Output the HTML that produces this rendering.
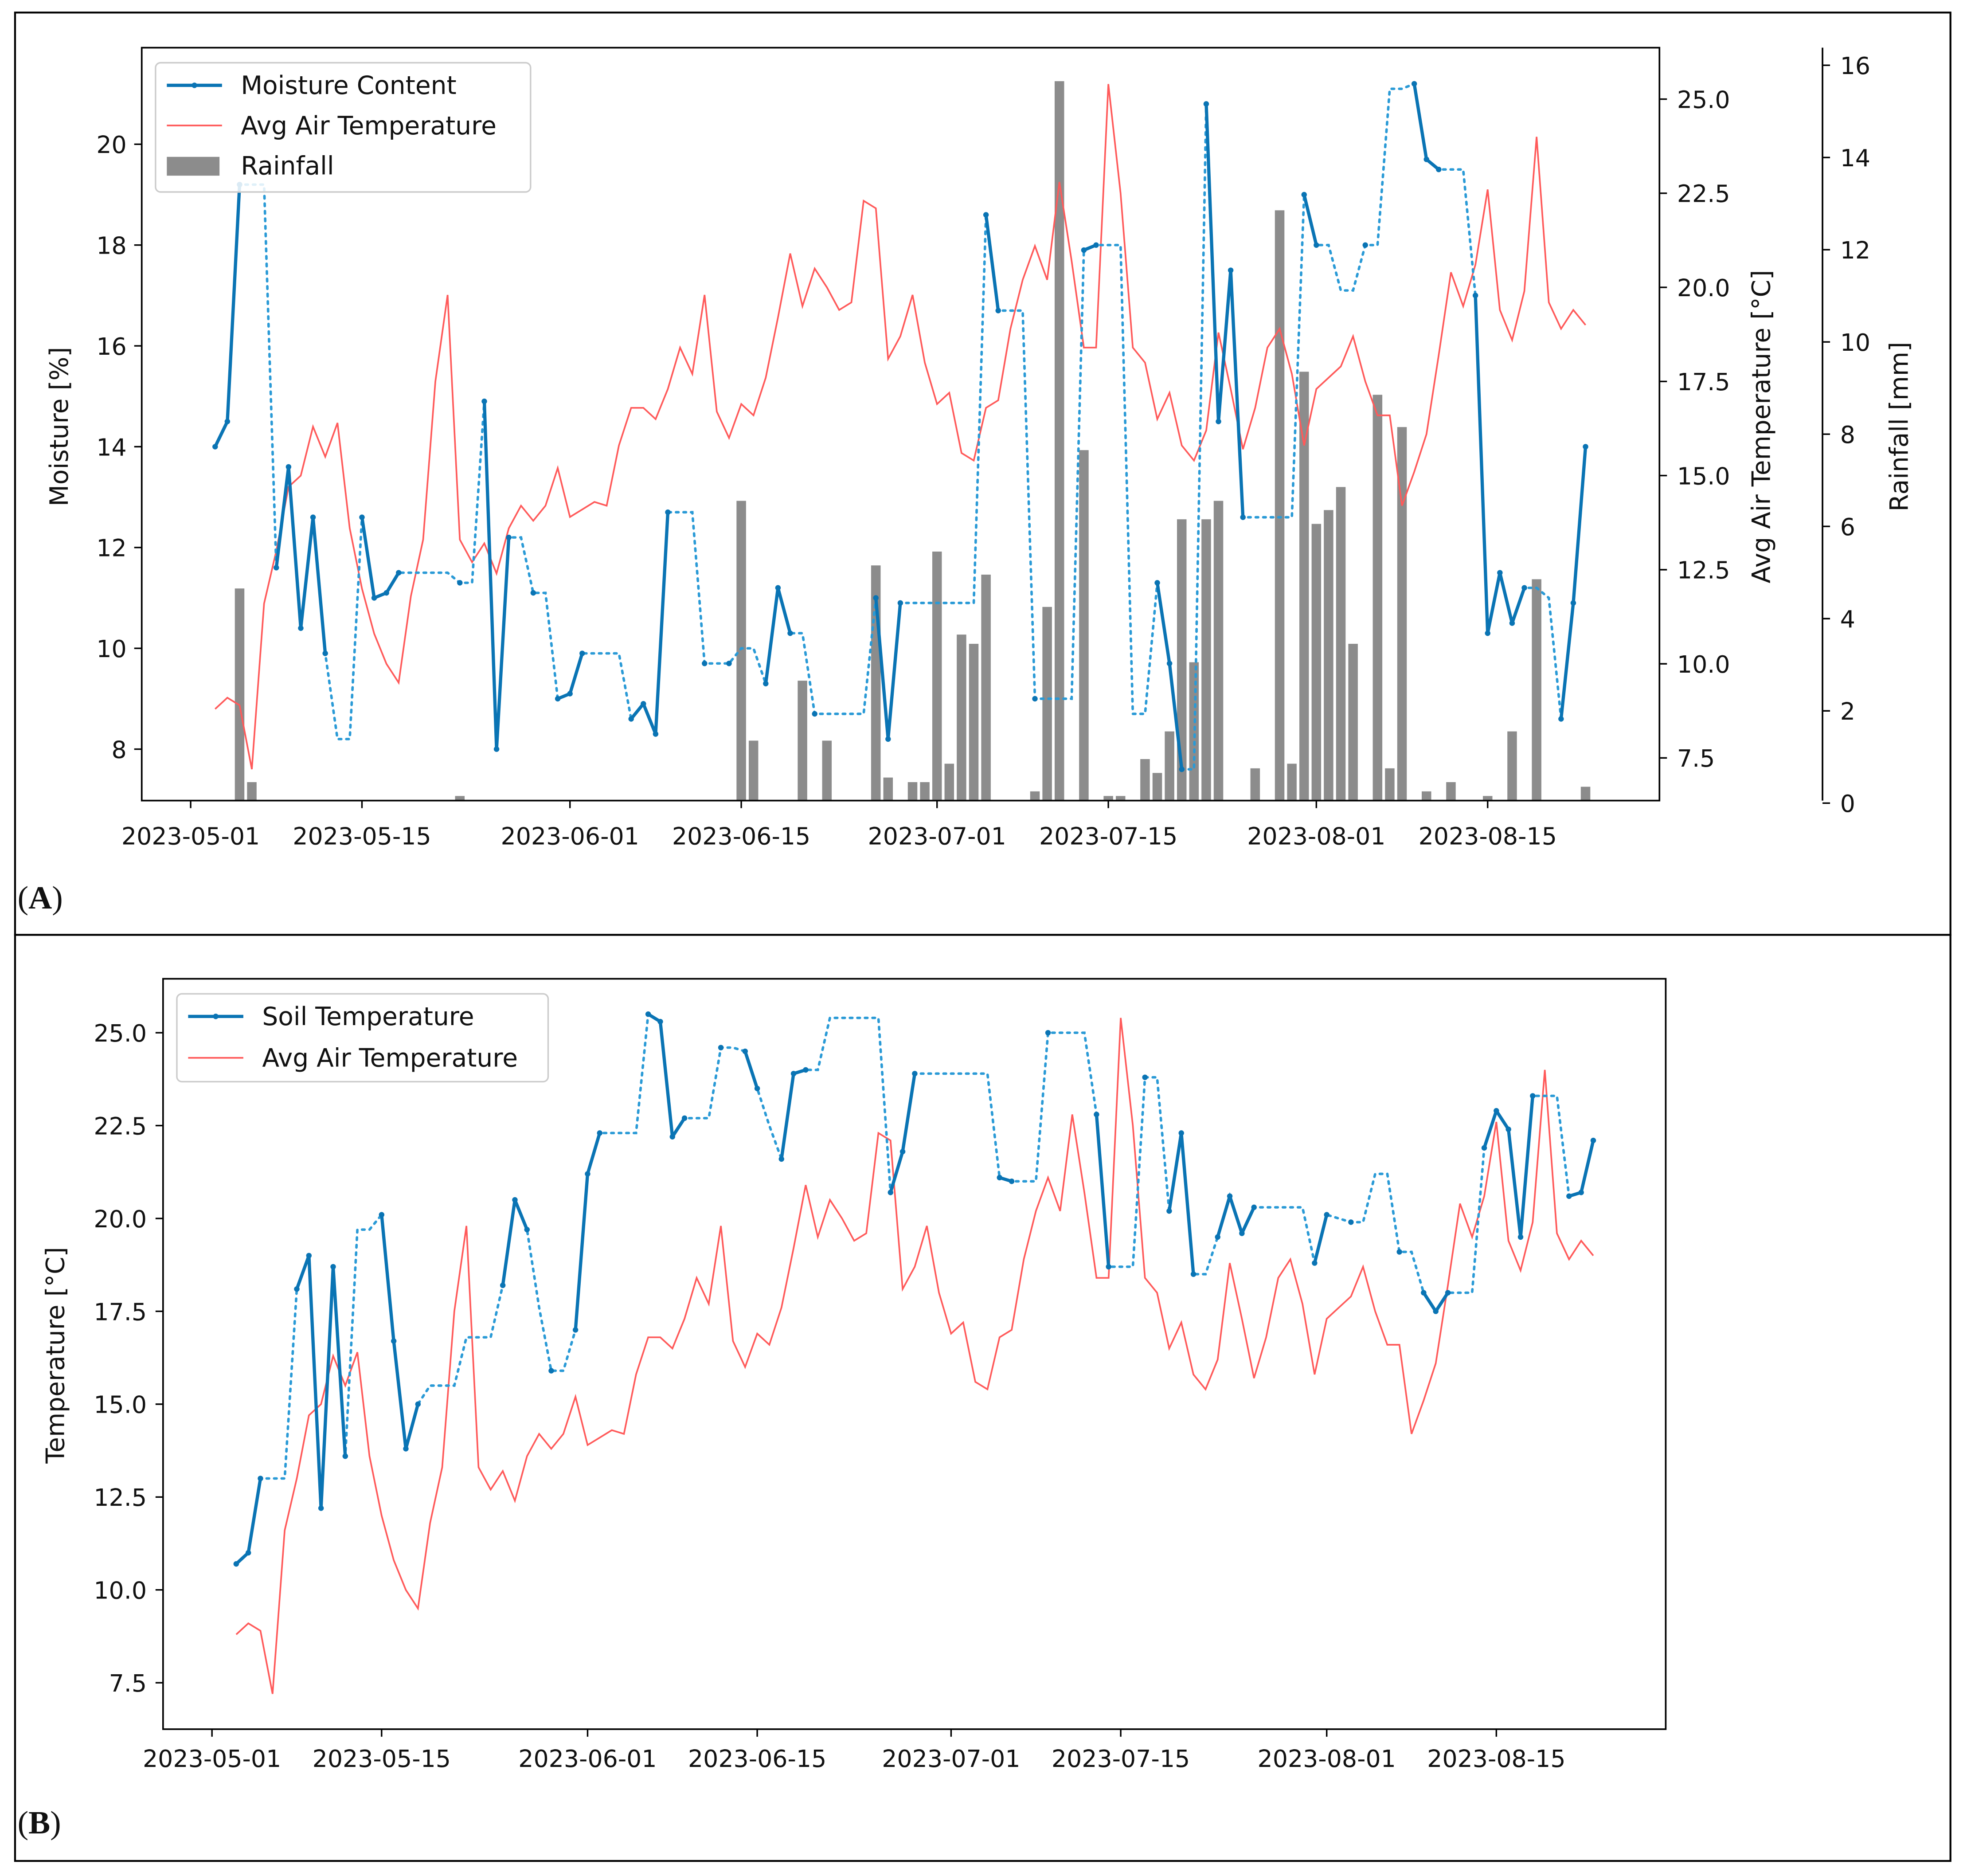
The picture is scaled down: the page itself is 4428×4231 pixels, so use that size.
<!DOCTYPE html>
<html><head><meta charset="utf-8">
<style>
html,body{margin:0;padding:0;background:#fff;}
svg{display:block;}
text{font-family:"DejaVu Sans","Liberation Sans",sans-serif;fill:#111;}
</style></head>
<body>
<svg id="fig" xmlns="http://www.w3.org/2000/svg" width="4428" height="4231" viewBox="0 0 1565 1495" preserveAspectRatio="none">
<rect x="0" y="0" width="1565" height="1495" fill="#fff"/>
<rect x="12" y="10" width="1543" height="735" fill="none" stroke="#000" stroke-width="1.5"/>
<rect x="12" y="745" width="1543" height="738" fill="none" stroke="#000" stroke-width="1.5"/>
<text x="14" y="724" font-size="26" style="font-family:'Liberation Serif',serif">(<tspan font-weight="bold">A</tspan>)</text>
<text x="14" y="1461" font-size="26" style="font-family:'Liberation Serif',serif">(<tspan font-weight="bold">B</tspan>)</text>
<g id="ga"></g>
<g id="gb"></g>
</svg>
<script>
// ---- data (day index d = days since 2023-05-01) ----
const airDays = [];
for (let d = 2; d <= 114; d++) airDays.push(d);
const airTemp = [8.8,9.1,8.9,7.2,11.6,13.0,14.7,15.0,16.3,15.5,16.4,13.6,12.0,10.8,10.0,9.5,11.8,13.3,17.5,19.8,13.3,12.7,13.2,12.4,13.6,14.2,13.8,14.2,15.2,13.9,14.1,14.3,14.2,15.8,16.8,16.8,16.5,17.3,18.4,17.7,19.8,16.7,16.0,16.9,16.6,17.6,19.2,20.9,19.5,20.5,20.0,19.4,19.6,22.3,22.1,18.1,18.7,19.8,18.0,16.9,17.2,15.6,15.4,16.8,17.0,18.9,20.2,21.1,20.2,22.8,20.7,18.4,18.4,25.4,22.5,18.4,18.0,16.5,17.2,15.8,15.4,16.2,18.8,17.3,15.7,16.8,18.4,18.9,17.7,15.8,17.3,17.6,17.9,18.7,17.5,16.6,16.6,14.2,15.1,16.1,18.2,20.4,19.5,20.6,22.6,19.4,18.6,19.9,24.0,19.6,18.9,19.4,19.0];
const moisture = [14.0,14.5,19.2,19.2,19.2,11.6,13.6,10.4,12.6,9.9,8.2,8.2,12.6,11.0,11.1,11.5,11.5,11.5,11.5,11.5,11.3,11.3,14.9,8.0,12.2,12.2,11.1,11.1,9.0,9.1,9.9,9.9,9.9,9.9,8.6,8.9,8.3,12.7,12.7,12.7,9.7,9.7,9.7,10.0,10.0,9.3,11.2,10.3,10.3,8.7,8.7,8.7,8.7,8.7,11.0,8.2,10.9,10.9,10.9,10.9,10.9,10.9,10.9,18.6,16.7,16.7,16.7,9.0,9.0,9.0,9.0,17.9,18.0,18.0,18.0,8.7,8.7,11.3,9.7,7.6,7.6,20.8,14.5,17.5,12.6,12.6,12.6,12.6,12.6,19.0,18.0,18.0,17.1,17.1,18.0,18.0,21.1,21.1,21.2,19.7,19.5,19.5,19.5,17.0,10.3,11.5,10.5,11.2,11.2,11.0,8.6,10.9,14.0];
const moistMeasured = [1,1,1,0,0,1,1,1,1,1,
0,0,1,1,1,1,0,0,0,0,
1,0,1,1,1,0,1,0,1,1,
1,0,0,0,1,1,1,1,0,0,
1,0,1,0,0,1,1,1,0,1,
0,0,0,0,1,1,1,0,0,0,
0,0,0,1,1,0,0,1,0,0,
0,1,1,0,0,0,0,1,1,1,
0,1,1,1,1,0,0,0,0,1,
1,0,0,0,1,0,0,0,1,1,
1,0,0,1,1,1,1,1,0,0,
1,1,1];
const soilTemp = [10.7,11.0,13.0,13.0,13.0,18.1,19.0,12.2,18.7,13.6,
19.7,19.7,20.1,16.7,13.8,15.0,15.5,15.5,15.5,16.8,
16.8,16.8,18.2,20.5,19.7,17.6,15.9,15.9,17.0,21.2,
22.3,22.3,22.3,22.3,25.5,25.3,22.2,22.7,22.7,22.7,
24.6,24.6,24.5,23.5,22.5,21.6,23.9,24.0,24.0,25.4,
25.4,25.4,25.4,25.4,20.7,21.8,23.9,23.9,23.9,23.9,
23.9,23.9,23.9,21.1,21.0,21.0,21.0,25.0,25.0,25.0,
25.0,22.8,18.7,18.7,18.7,23.8,23.8,20.2,22.3,18.5,
18.5,19.5,20.6,19.6,20.3,20.3,20.3,20.3,20.3,18.8,
20.1,20.0,19.9,19.9,21.2,21.2,19.1,19.1,18.0,17.5,
18.0,18.0,18.0,21.9,22.9,22.4,19.5,23.3,23.3,23.3,
20.6,20.7,22.1];
const soilMeasured = [1,1,1,0,0,1,1,1,1,1,
0,0,1,1,1,1,0,0,0,0,
0,0,1,1,1,0,1,0,1,1,
1,0,0,0,1,1,1,1,0,0,
1,0,1,1,0,1,1,1,0,0,
0,0,0,0,1,1,1,0,0,0,
0,0,0,1,1,0,0,1,0,0,
0,1,1,0,0,1,0,1,1,1,
0,1,1,1,1,0,0,0,0,1,
1,0,1,0,0,0,1,0,1,1,
1,0,0,1,1,1,1,1,0,0,
1,1,1];
const rainDays = [4,5,22,45,46,50,52,56,57,59,60,61,62,63,64,65,69,70,71,73,75,76,78,79,80,81,82,83,84,87,89,90,91,92,93,94,95,97,98,99,101,103,106,108,110,114];
const rainMm = [4.6,0.4,0.1,6.5,1.3,2.6,1.3,5.1,0.5,0.4,0.4,5.4,0.8,3.6,3.4,4.9,0.2,4.2,15.6,7.6,0.1,0.1,0.9,0.6,1.5,6.1,3.0,6.1,6.5,0.7,12.8,0.8,9.3,6.0,6.3,6.8,3.4,8.8,0.7,8.1,0.2,0.4,0.1,1.5,4.8,0.3];
const dateTickDays = [0,14,31,45,61,75,92,106];
const dateTickLabels = ["2023-05-01","2023-05-15","2023-06-01","2023-06-15","2023-07-01","2023-07-15","2023-08-01","2023-08-15"];
const moistTicks = [8,10,12,14,16,18,20];
const tempTicks = [7.5,10.0,12.5,15.0,17.5,20.0,22.5,25.0];
const rainTicks = [0,2,4,6,8,10,12,14,16];

const NS = "http://www.w3.org/2000/svg";
function mk(parent, tag, attrs) {
  const e = document.createElementNS(NS, tag);
  for (const k in attrs) e.setAttribute(k, attrs[k]);
  parent.appendChild(e);
  return e;
}
const BLUE = "#0a74b4", LBLUE = "#2a9ad6", RED = "#ff5a5a";

// ---------- Panel A ----------
const ga = document.getElementById("ga");
const xA = d => 152 + d * 9.755;
const yM = m => 597 - (m - 8) * 40.17;
const yT = t => 604 - (t - 7.5) * 30;
const yR = r => 638 - r * 36.75;

rainDays.forEach((d, i) => {
  const b = mk(ga, "rect", {x: xA(d) - 3.8, y: yR(rainMm[i]), width: 7.6, height: 638 - yR(rainMm[i]), fill: "#8c8c8c"});
  
  
});
{
  const p = mk(ga, "polyline", {points: airDays.map((d, i) => xA(d) + "," + yT(airTemp[i])).join(" "), fill: "none", stroke: RED, "stroke-width": 1.3});
  
  
}
function drawSeries(g, vals, meas, xf, yf, name) {
  const dotted = mk(g, "polyline", {points: airDays.map((d, i) => xf(d) + "," + yf(vals[i])).join(" "), fill: "none", stroke: LBLUE, "stroke-width": 2, "stroke-dasharray": "2,4", "stroke-linecap": "round"});
  
  
  let seg = [];
  const flush = () => {
    if (seg.length > 1) {
      const s = mk(g, "polyline", {points: seg.join(" "), fill: "none", stroke: BLUE, "stroke-width": 2.6, "stroke-linejoin": "round"});
      
      
    }
    seg = [];
  };
  airDays.forEach((d, i) => {
    if (meas[i]) {
      seg.push(xf(d) + "," + yf(vals[i]));
      const c = mk(g, "circle", {cx: xf(d), cy: yf(vals[i]), r: 2.2, fill: BLUE});
      
      
    } else flush();
  });
  flush();
}
drawSeries(ga, moisture, moistMeasured, xA, yM, "moisture");

mk(ga, "rect", {x: 113, y: 38, width: 1210, height: 600, fill: "none", stroke: "#000", "stroke-width": 1.3});
mk(ga, "line", {x1: 1453, y1: 38, x2: 1453, y2: 638, stroke: "#000", "stroke-width": 1.3});
dateTickDays.forEach((d, i) => {
  mk(ga, "line", {x1: xA(d), y1: 638, x2: xA(d), y2: 644, stroke: "#000", "stroke-width": 1.2});
  const t = mk(ga, "text", {x: xA(d), y: 673, "font-size": 19, "text-anchor": "middle"});
  t.textContent = dateTickLabels[i];
  
  
});
moistTicks.forEach(v => {
  mk(ga, "line", {x1: 107, y1: yM(v), x2: 113, y2: yM(v), stroke: "#000", "stroke-width": 1.2});
  const t = mk(ga, "text", {x: 101, y: yM(v) + 7, "font-size": 19, "text-anchor": "end"});
  t.textContent = v;
  
  
});
tempTicks.forEach(v => {
  mk(ga, "line", {x1: 1323, y1: yT(v), x2: 1329, y2: yT(v), stroke: "#000", "stroke-width": 1.2});
  const t = mk(ga, "text", {x: 1337, y: yT(v) + 7, "font-size": 19});
  t.textContent = v.toFixed(1);
  
  
});
rainTicks.forEach(v => {
  mk(ga, "line", {x1: 1453, y1: yR(v) + 2, x2: 1459, y2: yR(v) + 2, stroke: "#000", "stroke-width": 1.2});
  const t = mk(ga, "text", {x: 1467, y: yR(v) + 9, "font-size": 19});
  t.textContent = v;
  
  
});
{
  let t = mk(ga, "text", {x: 0, y: 0, "font-size": 20, "text-anchor": "middle", transform: "translate(54,340) rotate(-90)"});
  t.textContent = "Moisture [%]";
  
  
  t = mk(ga, "text", {x: 0, y: 0, "font-size": 20, "text-anchor": "middle", transform: "translate(1411,340) rotate(-90)"});
  t.textContent = "Avg Air Temperature [°C]";
  
  
  t = mk(ga, "text", {x: 0, y: 0, "font-size": 20, "text-anchor": "middle", transform: "translate(1521,340) rotate(-90)"});
  t.textContent = "Rainfall [mm]";
  
  
}
{
  const lg = mk(ga, "g", {});
  
  
  mk(lg, "rect", {x: 124, y: 50, width: 299, height: 103, rx: 4, fill: "#fff", "fill-opacity": 0.85, stroke: "#ccc", "stroke-width": 1.2});
  mk(lg, "line", {x1: 133, y1: 68, x2: 177, y2: 68, stroke: BLUE, "stroke-width": 2.6});
  mk(lg, "circle", {cx: 155, cy: 68, r: 2.2, fill: BLUE});
  mk(lg, "line", {x1: 133, y1: 100, x2: 177, y2: 100, stroke: RED, "stroke-width": 1.3});
  mk(lg, "rect", {x: 133, y: 125, width: 42, height: 15, fill: "#8c8c8c"});
  [["Moisture Content", 75], ["Avg Air Temperature", 107], ["Rainfall", 139]].forEach(([s, y]) => {
    const t = mk(lg, "text", {x: 192, y: y, "font-size": 20});
    t.textContent = s;
    
    
  });
}

// ---------- Panel B ----------
const gb = document.getElementById("gb");
const xB = d => 169 + d * 9.66;
const yB = t => 1341 - (t - 7.5) * 29.6;
{
  const p = mk(gb, "polyline", {points: airDays.map((d, i) => xB(d) + "," + yB(airTemp[i])).join(" "), fill: "none", stroke: RED, "stroke-width": 1.3});
  
  
}
drawSeries(gb, soilTemp, soilMeasured, xB, yB, "soil-temperature");
mk(gb, "rect", {x: 130, y: 780, width: 1198, height: 598, fill: "none", stroke: "#000", "stroke-width": 1.3});
dateTickDays.forEach((d, i) => {
  mk(gb, "line", {x1: xB(d), y1: 1378, x2: xB(d), y2: 1384, stroke: "#000", "stroke-width": 1.2});
  const t = mk(gb, "text", {x: xB(d), y: 1408, "font-size": 19, "text-anchor": "middle"});
  t.textContent = dateTickLabels[i];
  
  
});
tempTicks.forEach(v => {
  mk(gb, "line", {x1: 124, y1: yB(v), x2: 130, y2: yB(v), stroke: "#000", "stroke-width": 1.2});
  const t = mk(gb, "text", {x: 117, y: yB(v) + 7, "font-size": 19, "text-anchor": "end"});
  t.textContent = v.toFixed(1);
  
  
});
{
  const t = mk(gb, "text", {x: 0, y: 0, "font-size": 20, "text-anchor": "middle", transform: "translate(51,1080) rotate(-90)"});
  t.textContent = "Temperature [°C]";
  
  
  const lg = mk(gb, "g", {});
  
  
  mk(lg, "rect", {x: 141, y: 792, width: 296, height: 70, rx: 4, fill: "#fff", "fill-opacity": 0.85, stroke: "#ccc", "stroke-width": 1.2});
  mk(lg, "line", {x1: 150, y1: 810, x2: 194, y2: 810, stroke: BLUE, "stroke-width": 2.6});
  mk(lg, "circle", {cx: 172, cy: 810, r: 2.2, fill: BLUE});
  mk(lg, "line", {x1: 150, y1: 843, x2: 194, y2: 843, stroke: RED, "stroke-width": 1.3});
  [["Soil Temperature", 817], ["Avg Air Temperature", 850]].forEach(([s, y]) => {
    const t2 = mk(lg, "text", {x: 209, y: y, "font-size": 20});
    t2.textContent = s;
    
    
  });
}
</script>
</body></html>
